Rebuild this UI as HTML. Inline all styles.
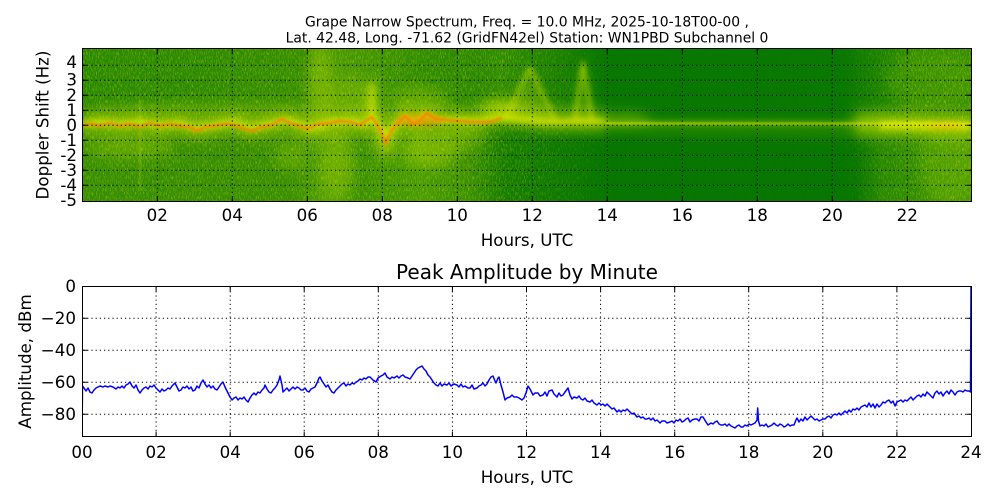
<!DOCTYPE html>
<html><head><meta charset="utf-8"><style>
html,body{margin:0;padding:0;background:#fff;}
svg{display:block;}
text{font-family:"DejaVu Sans","Liberation Sans",sans-serif;fill:#000;}
</style></head><body>
<svg width="1000" height="500" viewBox="0 0 1000 500" xmlns="http://www.w3.org/2000/svg">
<defs>
<clipPath id="sc"><rect x="82.5" y="48.5" width="889" height="153"/></clipPath>
<clipPath id="bc"><rect x="82" y="285" width="890.5" height="152"/></clipPath>
<filter id="b6" x="-30%" y="-30%" width="160%" height="160%"><feGaussianBlur stdDeviation="6"/></filter>
<filter id="b3" x="-30%" y="-30%" width="160%" height="160%"><feGaussianBlur stdDeviation="3"/></filter>
<filter id="b1" x="-30%" y="-30%" width="160%" height="160%"><feGaussianBlur stdDeviation="1"/></filter>
<filter id="nz" x="0" y="0" width="100%" height="100%" filterUnits="objectBoundingBox">
<feTurbulence type="fractalNoise" baseFrequency="1.7 0.25" numOctaves="2" seed="23"/>
<feColorMatrix type="matrix" values="0 0 0 0 0.8  0 0 0 0 0.88  0 0 0 0 0  0 0 0 3.2 -1.55"/>
</filter>
<filter id="nzd" x="0" y="0" width="100%" height="100%" filterUnits="objectBoundingBox">
<feTurbulence type="fractalNoise" baseFrequency="1.9 0.9" numOctaves="1" seed="41"/>
<feColorMatrix type="matrix" values="0 0 0 0 0  0 0 0 0 0.42  0 0 0 0 0  0 0 0 3 -1.5"/>
</filter>
<linearGradient id="mg" gradientUnits="userSpaceOnUse" x1="82" y1="0" x2="971" y2="0">
<stop offset="0" stop-color="#fff"/>
<stop offset="0.47" stop-color="#fff"/>
<stop offset="0.56" stop-color="#555"/>
<stop offset="0.6" stop-color="#000"/>
<stop offset="0.85" stop-color="#000"/>
<stop offset="0.93" stop-color="#fff"/>
<stop offset="1" stop-color="#fff"/>
</linearGradient>
<mask id="nm" maskUnits="userSpaceOnUse" x="82" y="48" width="890" height="154"><rect x="82" y="48" width="890" height="154" fill="url(#mg)"/></mask>
<linearGradient id="gu" gradientUnits="userSpaceOnUse" x1="82" y1="0" x2="971" y2="0">
<stop offset="0" stop-color="#2a8704"/>
<stop offset="0.133" stop-color="#2c8805"/>
<stop offset="0.245" stop-color="#358c05"/>
<stop offset="0.279" stop-color="#4a9808"/>
<stop offset="0.335" stop-color="#3e9206"/>
<stop offset="0.38" stop-color="#2f8a05"/>
<stop offset="0.448" stop-color="#2a8604"/>
<stop offset="0.47" stop-color="#2f8a05"/>
<stop offset="0.538" stop-color="#1a7e03"/>
<stop offset="0.583" stop-color="#097603"/>
<stop offset="0.86" stop-color="#0a7703"/>
<stop offset="0.92" stop-color="#248505"/>
<stop offset="1" stop-color="#358c07"/>
</linearGradient>
<linearGradient id="gl" gradientUnits="userSpaceOnUse" x1="82" y1="0" x2="971" y2="0">
<stop offset="0" stop-color="#368c06"/>
<stop offset="0.235" stop-color="#368c06"/>
<stop offset="0.27" stop-color="#509c09"/>
<stop offset="0.313" stop-color="#3a8f06"/>
<stop offset="0.38" stop-color="#489a08"/>
<stop offset="0.436" stop-color="#3a8e06"/>
<stop offset="0.476" stop-color="#137a03"/>
<stop offset="0.583" stop-color="#087502"/>
<stop offset="0.87" stop-color="#087502"/>
<stop offset="0.9" stop-color="#288705"/>
<stop offset="1" stop-color="#3e920a"/>
</linearGradient>
</defs>

<text x="527" y="26.5" font-size="13.9" text-anchor="middle">Grape Narrow Spectrum, Freq. = 10.0 MHz, 2025-10-18T00-00 ,</text>
<text x="527" y="42.5" font-size="13.9" text-anchor="middle">Lat.  42.48, Long. -71.62 (GridFN42el) Station: WN1PBD Subchannel 0</text>

<g clip-path="url(#sc)">
<rect x="82" y="48" width="890" height="80" fill="url(#gu)"/>
<rect x="82" y="126" width="890" height="76" fill="url(#gl)"/>
<g filter="url(#b6)">
<polyline points="82,126 971,126" stroke="#3a9006" stroke-width="10" fill="none" opacity="0.4"/>
<polyline points="82,124 100,122 120,124 140,122 160,125 180,123 195,128 215,125 235,122 250,128 270,124 285,120 300,124 310,128 330,122 350,121 365,124 372,117 378,125 386,136 394,126 405,116 415,122 425,114 440,120 460,120 480,119 500,113 520,114 540,118 560,120 580,120 605,121" stroke="#b8d600" stroke-width="22" fill="none" opacity="0.55"/>
<ellipse cx="320" cy="90" rx="12" ry="45" fill="#b8d800" opacity="0.4"/>
<ellipse cx="350" cy="100" rx="18" ry="25" fill="#a8d000" opacity="0.3"/>
<ellipse cx="372" cy="100" rx="5" ry="22" fill="#e0ee00" opacity="0.55"/>
<ellipse cx="420" cy="100" rx="30" ry="15" fill="#a8d000" opacity="0.3"/>
<ellipse cx="500" cy="107" rx="20" ry="9" fill="#d0e600" opacity="0.45"/>
<polygon points="505,125 530,70 555,125" fill="#b8d800" opacity="0.3"/>
<polygon points="574,125 583,62 594,125" fill="#b8d800" opacity="0.3"/>
<ellipse cx="200" cy="110" rx="110" ry="8" fill="#9cc800" opacity="0.3"/>
<ellipse cx="130" cy="148" rx="45" ry="10" fill="#a8d000" opacity="0.35"/>
<ellipse cx="290" cy="155" rx="15" ry="15" fill="#a8d000" opacity="0.3"/>
<ellipse cx="338" cy="165" rx="16" ry="35" fill="#b0d400" opacity="0.35"/>
<ellipse cx="385" cy="145" rx="8" ry="15" fill="#e0e800" opacity="0.4"/>
<ellipse cx="430" cy="150" rx="28" ry="18" fill="#b8d800" opacity="0.4"/>
<ellipse cx="465" cy="140" rx="20" ry="10" fill="#a8d000" opacity="0.3"/>
<ellipse cx="625" cy="120" rx="25" ry="8" fill="#b0d400" opacity="0.4"/>
<polyline points="640,127 700,129 760,129 820,131 860,129" stroke="#5aa405" stroke-width="10" fill="none" opacity="0.3"/>
<polyline points="855,124 900,124 940,126 975,126" stroke="#c0dc00" stroke-width="24" fill="none" opacity="0.6"/>
<ellipse cx="950" cy="165" rx="30" ry="40" fill="#8cc000" opacity="0.3"/>
<ellipse cx="930" cy="80" rx="45" ry="30" fill="#6ab004" opacity="0.25"/>
</g>
<g mask="url(#nm)" opacity="0.4">
<rect x="82" y="48" width="890" height="154" filter="url(#nz)"/>
</g>
<g opacity="0.2">
<rect x="82" y="48" width="890" height="154" filter="url(#nzd)"/>
</g>
<g filter="url(#b3)">
<polyline points="82,124 100,122 120,124 140,122 160,125 180,123 195,128 215,125 235,122 250,128 270,124 285,120 300,124 310,128 330,122 350,121 365,124 372,117 378,125 386,136 394,126 405,116 415,122 425,114 440,120 460,120 480,121 500,117 520,119 540,121 560,122 580,121 605,122" stroke="#e6ee00" stroke-width="6" fill="none" opacity="0.7"/>
<polyline points="605,123 971,124" stroke="#d0e600" stroke-width="2.5" fill="none" opacity="0.6"/>
<polyline points="880,125 971,126" stroke="#eaf000" stroke-width="8" fill="none" opacity="0.7"/>
<line x1="372" y1="84" x2="372" y2="120" stroke="#e8f000" stroke-width="3" opacity="0.8"/>
<polyline points="505,120 530,68 555,120" stroke="#e0ec00" stroke-width="2.5" fill="none" opacity="0.8"/>
<polyline points="575,120 583,62 592,120" stroke="#e0ec00" stroke-width="2.5" fill="none" opacity="0.8"/>
<ellipse cx="420" cy="120" rx="25" ry="6" fill="#ff9a00" opacity="0.6"/>
<ellipse cx="945" cy="126" rx="18" ry="3" fill="#ffb000" opacity="0.6"/>
</g>
<g filter="url(#b1)">
<polyline points="82,125 92,124 100,126 110,123 120,126 130,124 140,127 150,123 160,126 170,124 180,126 190,127 197,131 205,127 215,126 225,124 235,125 245,129 252,131 262,127 272,125 282,119 290,123 300,126 308,129 318,124 330,123 340,121 350,122 360,125 366,121 372,117 378,126 383,136 386,143 390,133 396,125 405,116 413,124 420,121 427,113 435,119 445,120 460,121 475,122 490,122 502,118" stroke="#ff7800" stroke-width="2.2" fill="none" opacity="0.9"/>
<line x1="606" y1="123.5" x2="971" y2="124" stroke="#f0f200" stroke-width="1.2"/>
<line x1="140" y1="100" x2="140" y2="190" stroke="#d8e800" stroke-width="1.2" opacity="0.5"/>
</g>
</g>

<g stroke="#000" stroke-width="1" stroke-dasharray="1.2,3" fill="none">
<line x1="157.3" y1="49" x2="157.3" y2="201"/><line x1="232.3" y1="49" x2="232.3" y2="201"/>
<line x1="307.3" y1="49" x2="307.3" y2="201"/><line x1="382.3" y1="49" x2="382.3" y2="201"/>
<line x1="457.3" y1="49" x2="457.3" y2="201"/><line x1="532.3" y1="49" x2="532.3" y2="201"/>
<line x1="607.3" y1="49" x2="607.3" y2="201"/><line x1="682.3" y1="49" x2="682.3" y2="201"/>
<line x1="757.3" y1="49" x2="757.3" y2="201"/><line x1="832.3" y1="49" x2="832.3" y2="201"/>
<line x1="907.3" y1="49" x2="907.3" y2="201"/>
<line x1="83" y1="65.3" x2="971" y2="65.3"/><line x1="83" y1="80.3" x2="971" y2="80.3"/>
<line x1="83" y1="95.3" x2="971" y2="95.3"/><line x1="83" y1="110.3" x2="971" y2="110.3"/>
<line x1="83" y1="125.3" x2="971" y2="125.3"/><line x1="83" y1="140.3" x2="971" y2="140.3"/>
<line x1="83" y1="155.3" x2="971" y2="155.3"/><line x1="83" y1="170.3" x2="971" y2="170.3"/>
<line x1="83" y1="185.3" x2="971" y2="185.3"/>
</g>
<g stroke="#000" stroke-width="1">
<path d="M82.5,65.3h5M82.5,80.3h5M82.5,95.3h5M82.5,110.3h5M82.5,125.3h5M82.5,140.3h5M82.5,155.3h5M82.5,170.3h5M82.5,185.3h5"/>
<path d="M971.5,65.3h-5M971.5,80.3h-5M971.5,95.3h-5M971.5,110.3h-5M971.5,125.3h-5M971.5,140.3h-5M971.5,155.3h-5M971.5,170.3h-5M971.5,185.3h-5"/>
<path d="M157.3,201.5v-5M232.3,201.5v-5M307.3,201.5v-5M382.3,201.5v-5M457.3,201.5v-5M532.3,201.5v-5M607.3,201.5v-5M682.3,201.5v-5M757.3,201.5v-5M832.3,201.5v-5M907.3,201.5v-5"/>
<path d="M157.3,48.5v5M232.3,48.5v5M307.3,48.5v5M382.3,48.5v5M457.3,48.5v5M532.3,48.5v5M607.3,48.5v5M682.3,48.5v5M757.3,48.5v5M832.3,48.5v5M907.3,48.5v5"/>
</g>
<rect x="82.5" y="48.5" width="889" height="153" fill="none" stroke="#000" stroke-width="1"/>

<g font-size="16.7" text-anchor="end" dominant-baseline="central">
<text x="77" y="62">4</text><text x="77" y="79.5">3</text><text x="77" y="95">2</text>
<text x="77" y="110">1</text><text x="77" y="125">0</text><text x="77" y="140">-1</text>
<text x="77" y="155">-2</text><text x="77" y="170">-3</text><text x="77" y="185">-4</text>
<text x="77" y="200">-5</text>
</g>
<g font-size="16.7" text-anchor="middle" dominant-baseline="central">
<text x="157.3" y="215">02</text><text x="232.3" y="215">04</text><text x="307.3" y="215">06</text>
<text x="382.3" y="215">08</text><text x="457.3" y="215">10</text><text x="532.3" y="215">12</text>
<text x="607.3" y="215">14</text><text x="682.3" y="215">16</text><text x="757.3" y="215">18</text>
<text x="832.3" y="215">20</text><text x="907.3" y="215">22</text>
<text x="527" y="240">Hours, UTC</text>
</g>
<text font-size="16.7" text-anchor="middle" dominant-baseline="central" transform="translate(42.5,125) rotate(-90)">Doppler Shift (Hz)</text>

<text x="527" y="279" font-size="20" text-anchor="middle">Peak Amplitude by Minute</text>
<g stroke="#000" stroke-width="1" stroke-dasharray="1.2,3" fill="none">
<line x1="156.1" y1="287" x2="156.1" y2="437"/><line x1="230.2" y1="287" x2="230.2" y2="437"/>
<line x1="304.2" y1="287" x2="304.2" y2="437"/><line x1="378.3" y1="287" x2="378.3" y2="437"/>
<line x1="452.4" y1="287" x2="452.4" y2="437"/><line x1="526.5" y1="287" x2="526.5" y2="437"/>
<line x1="600.6" y1="287" x2="600.6" y2="437"/><line x1="674.7" y1="287" x2="674.7" y2="437"/>
<line x1="748.7" y1="287" x2="748.7" y2="437"/><line x1="822.8" y1="287" x2="822.8" y2="437"/>
<line x1="896.9" y1="287" x2="896.9" y2="437"/>
<line x1="83" y1="318.3" x2="971" y2="318.3"/><line x1="83" y1="350.3" x2="971" y2="350.3"/>
<line x1="83" y1="382.3" x2="971" y2="382.3"/><line x1="83" y1="414.3" x2="971" y2="414.3"/>
</g>
<g stroke="#000" stroke-width="1">
<path d="M82.5,318.3h5M82.5,350.3h5M82.5,382.3h5M82.5,414.3h5M971.5,318.3h-5M971.5,350.3h-5M971.5,382.3h-5M971.5,414.3h-5"/>
<path d="M156.1,436.5v-5M230.2,436.5v-5M304.2,436.5v-5M378.3,436.5v-5M452.4,436.5v-5M526.5,436.5v-5M600.6,436.5v-5M674.7,436.5v-5M748.7,436.5v-5M822.8,436.5v-5M896.9,436.5v-5"/>
<path d="M156.1,286.5v5M230.2,286.5v5M304.2,286.5v5M378.3,286.5v5M452.4,286.5v5M526.5,286.5v5M600.6,286.5v5M674.7,286.5v5M748.7,286.5v5M822.8,286.5v5M896.9,286.5v5"/>
</g>
<g clip-path="url(#bc)">
<polyline fill="none" stroke="#0000ff" stroke-width="1.5" stroke-linejoin="round" points="82,437 82.5,386 84,388 86,391 88,388 90,392 92,393 94,390 96,388 98,387 100,386 103,387 105,386 108,387 110,386 113,387 116,389 118,387 120,388 122,386 124,388 126,385 128,384 130,382 132,386 134,388 136,385 138,390 140,393 142,390 144,388 146,387 148,389 150,386 152,387 154,385 156,388 158,390 160,392 162,389 164,391 166,390 168,388 170,389 172,386 174,384 175,383 177,387 179,391 181,390 183,387 185,388 187,386 189,389 191,387 193,391 195,390 197,386 199,388 201,383 203,380 205,384 207,387 209,385 211,388 213,386 215,389 217,390 219,387 221,384 223,382 225,387 227,391 228,393 230,397 232,400 234,398 236,397 238,400 240,398 242,399 244,397 246,400 248,402 250,398 252,395 254,393 256,395 258,392 260,393 262,390 264,388 265,385 267,389 269,392 271,393 273,390 275,388 277,385 279,380 280,376 282,385 283,392 285,390 287,388 289,391 291,389 293,387 295,389 297,387 299,388 301,390 303,390 305,388 307,391 309,392 311,389 313,388 315,387 317,383 319,378 320,377 322,381 324,384 326,387 328,385 330,389 332,392 334,393 336,390 338,388 340,386 342,384 344,383 346,386 348,384 350,385 352,383 354,384 356,382 358,381 360,379 362,380 364,378 366,379 368,377 370,377 373,380 376,382 378,378 381,376 383,375 385,373 387,377 390,379 392,377 394,378 397,376 399,378 401,376 403,375 405,377 408,378 410,379 412,376 414,373 416,370 418,368 420,367 422,366 424,369 426,371 428,375 430,377 432,380 434,383 436,385 438,386 440,383 442,386 444,384 447,385 449,383 451,386 454,384 457,385 459,387 461,384 463,387 465,386 468,388 470,388 472,385 474,389 477,388 479,386 481,385 483,383 485,386 487,384 489,380 491,377 493,376 495,381 496,383 498,378 499,377 501,385 503,392 505,400 507,398 510,397 512,395 514,397 517,397 519,398 522,400 524,398 526,393 528,386 530,389 533,395 535,393 538,393 540,396 543,395 545,392 547,396 549,391 552,390 554,394 557,397 559,393 561,396 563,395 565,392 568,388 570,395 572,399 574,397 577,398 579,396 581,399 583,400 585,398 587,401 590,402 592,400 594,403 597,405 599,403 601,405 603,404 605,406 607,404 610,407 612,409 614,408 617,412 619,410 621,412 623,410 625,411 627,409 630,412 632,414 634,413 637,417 639,416 641,418 643,417 645,419 647,419 649,418 651,420 653,418 655,421 657,420 660,423 662,421 665,421 667,423 670,422 672,421 674,423 676,420 678,421 680,419 682,422 684,421 686,419 688,418 690,422 692,420 695,419 697,419 699,421 701,417 703,417 706,422 708,425 711,423 713,424 715,422 717,421 719,424 721,425 723,425 725,424 727,426 729,424 731,426 733,427 735,428 737,426 739,425 741,427 743,427 745,425 747,426 749,424 751,425 753,424 755,423 757,420 757.7,408 758.5,421 760,426 762,425 764,426 766,424 768,427 770,426 772,425 774,423 776,425 778,426 780,424 782,425 784,427 786,426 788,424 790,426 792,425 794,425 796,420 797,418 799,422 801,419 803,421 805,417 807,420 809,418 811,416 813,418 815,420 817,419 819,421 821,420 823,419 825,419 827,417 829,416 831,418 833,415 835,414 837,415 839,413 841,415 843,413 845,411 847,413 849,410 851,412 853,409 855,410 857,408 859,410 861,407 863,406 865,405 867,407 869,403 871,407 873,404 875,408 877,404 879,407 881,405 883,402 885,403 887,401 889,400 891,403 893,401 895,406 897,402 899,401 901,400 903,402 905,400 907,401 909,399 911,397 913,400 915,398 917,396 919,395 921,397 923,394 925,396 927,392 929,394 931,396 933,398 935,393 937,391 939,394 941,392 943,396 945,393 947,391 949,394 951,390 953,392 955,395 957,392 959,391 961,391 963,392 965,390 967,391 969,391 970.5,392 971,286"/>
</g>
<rect x="82.5" y="286.5" width="889" height="150" fill="none" stroke="#000" stroke-width="1"/>
<g font-size="16.7" text-anchor="end" dominant-baseline="central">
<text x="76" y="286">0</text><text x="76" y="318">−20</text><text x="76" y="350">−40</text>
<text x="76" y="382">−60</text><text x="76" y="414">−80</text>
</g>
<g font-size="16.7" text-anchor="middle" dominant-baseline="central">
<text x="82" y="452">00</text><text x="156.1" y="452">02</text><text x="230.2" y="452">04</text>
<text x="304.2" y="452">06</text><text x="378.3" y="452">08</text><text x="452.4" y="452">10</text>
<text x="526.5" y="452">12</text><text x="600.6" y="452">14</text><text x="674.7" y="452">16</text>
<text x="748.7" y="452">18</text><text x="822.8" y="452">20</text><text x="896.9" y="452">22</text>
<text x="971" y="452">24</text>
<text x="527" y="477">Hours, UTC</text>
</g>
<text font-size="16.7" text-anchor="middle" dominant-baseline="central" transform="translate(25,361.5) rotate(-90)">Amplitude, dBm</text>
</svg>
</body></html>
